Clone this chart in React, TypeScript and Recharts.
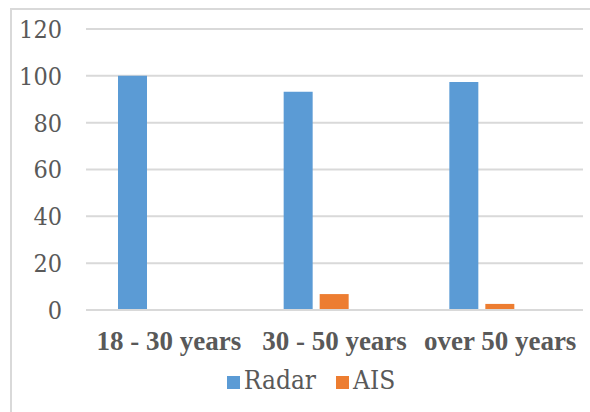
import React from 'react';
import { BarChart, Bar, XAxis, YAxis, CartesianGrid, Legend } from 'recharts';

const categories = ['18 - 30 years', '30 - 50 years', 'over 50 years'];
const radarValues = [100, 93.2, 97.4];
const aisValues = [0, 6.8, 2.6];
const spacerValues: (number | null)[] = [null, null, null];
const yTicks = [0, 20, 40, 60, 80, 100, 120];

const seriesNames = ['Radar', 'AIS'];
const seriesColors = ['#5B9BD5', '#ED7D31'];

const data = categories.map((c, i) => ({
  category: c,
  Radar: radarValues[i],
  AIS: aisValues[i],
  Spacer: spacerValues[i],
}));

const FONT_BOLD = '"Liberation Serif", serif';
const FONT_REG = '"DejaVu Serif Condensed", "DejaVu Serif"';
const TEXT = '#595959';

const renderLegend = () => (
  <div
    style={{
      display: 'flex',
      justifyContent: 'center',
      alignItems: 'center',
      height: 30,
      fontFamily: FONT_REG,
      fontSize: 26,
      color: TEXT,
    }}
  >
    {seriesNames.map((n, i) => (
      <div key={n} style={{ display: 'flex', alignItems: 'center', marginRight: i === 0 ? 20 : 0 }}>
        <span
          style={{
            display: 'inline-block',
            width: 13,
            height: 13,
            background: seriesColors[i],
            marginRight: 4,
            position: 'relative',
            top: 2,
          }}
        />
        <span style={{ lineHeight: '30px' }}>{n}</span>
      </div>
    ))}
  </div>
);

export default function App() {
  return (
    <div style={{ position: 'absolute', left: 0, top: 0, width: 590, height: 412, background: '#fff', overflow: 'hidden' }}>
      <div
        style={{
          position: 'absolute',
          left: 10,
          top: 8,
          width: 600,
          height: 420,
          borderTop: '2px solid #D9D9D9',
          borderLeft: '2px solid #D9D9D9',
          boxSizing: 'border-box',
        }}
      />
      <div style={{ position: 'absolute', left: 0, top: 0 }}>
        <BarChart
          width={590}
          height={412}
          data={data}
          margin={{ top: 29, right: 7, left: 0, bottom: 17 }}
          barSize={29}
          barGap={7}
        >
          <CartesianGrid vertical={false} stroke="#D9D9D9" strokeWidth={2} />
          <XAxis
            dataKey="category"
            axisLine={{ stroke: '#D9D9D9', strokeWidth: 2 }}
            tickLine={false}
            tickSize={0}
            tickMargin={21}
            height={55}
            interval={0}
            tick={{ fill: TEXT, fontFamily: FONT_BOLD, fontSize: 27, fontWeight: 'bold' }}
          />
          <YAxis
            width={86}
            domain={[0, 120]}
            ticks={yTicks}
            axisLine={false}
            tickLine={false}
            tickSize={0}
            tickMargin={24}
            tick={{ fill: TEXT, fontFamily: FONT_REG, fontSize: 25 }}
          />
          <Legend verticalAlign="bottom" height={30} content={renderLegend} wrapperStyle={{ left: 11, width: 600 }} />
          <Bar dataKey="Radar" fill={seriesColors[0]} isAnimationActive={false} />
          <Bar dataKey="AIS" fill={seriesColors[1]} isAnimationActive={false} />
          <Bar dataKey="Spacer" fill="transparent" legendType="none" isAnimationActive={false} />
        </BarChart>
      </div>
    </div>
  );
}
